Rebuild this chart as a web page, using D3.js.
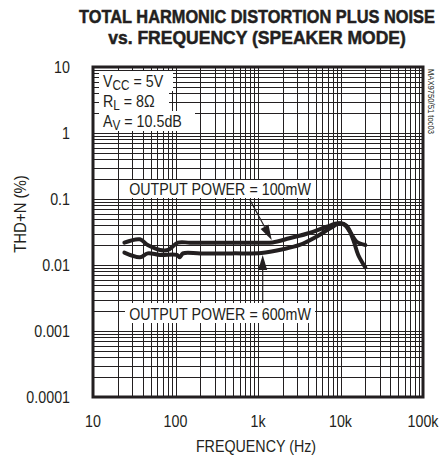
<!DOCTYPE html>
<html>
<head>
<meta charset="utf-8">
<script src="https://cdn.jsdelivr.net/npm/d3@7"></script>
<style>
	body { margin: 0; background: #fff; }
	svg text { font-family: 'Liberation Sans', Arial, sans-serif; fill: #231f20; }
	.graph-title { font-weight: bold; font-size: 19px; stroke: #231f20; stroke-width: 0.5px; }
	.ticklabel { font-size: 17px; }
	.axislabel { font-size: 17px; }
	.note { font-size: 17px; }
	.toc { font-size: 9px; }
</style>
</head>
<body>
<svg id="chartsvg"></svg>
<script>
// values
var xTicks = [10, 100, 1000, 10000, 100000];
var xTickLabels = ["10", "100", "1k", "10k", "100k"];
var yTicks = [10, 1, 0.1, 0.01, 0.001, 0.0001];
var yTickLabels = ["10", "1", "0.1", "0.01", "0.001", "0.0001"];

// OUTPUT POWER = 100mW
var freq100 = [24, 37, 46, 65, 81, 107, 150, 300, 600, 1000, 1500, 2400, 4300, 6800, 9400, 11300, 13000, 15700, 20000];
var thd100 = [0.0218, 0.0245, 0.0201, 0.0169, 0.0169, 0.0218, 0.0218, 0.0218, 0.0218, 0.0218, 0.0220, 0.0254, 0.0308, 0.0380, 0.0428, 0.0404, 0.0320, 0.0225, 0.0201];
// OUTPUT POWER = 600mW
var freq600 = [24, 37, 46, 65, 104, 113, 123, 200, 500, 1100, 2000, 3200, 5100, 7500, 9900, 11900, 14300, 16400, 20000];
var thd600 = [0.0154, 0.0131, 0.0150, 0.0142, 0.0142, 0.0131, 0.0150, 0.0150, 0.0150, 0.0152, 0.0173, 0.0201, 0.0268, 0.0360, 0.0428, 0.0390, 0.0239, 0.0142, 0.0092];

var titleLines = ["TOTAL HARMONIC DISTORTION PLUS NOISE", "vs. FREQUENCY (SPEAKER MODE)"];
var conditions = [["V", "CC", " = 5V"], ["R", "L", " = 8\u03a9"], ["A", "V", " = 10.5dB"]];

var Plot = {
	width0: 447,
	height0: 459,
	left: 93, right: 423, top: 67, bottom: 397,
	narrow: 0.84, //the original uses a condensed face, squeeze the regular one
	ink: "#231f20",
	Init: function() {
		var p = this;
		this.svg = d3.select("#chartsvg").attr("width", p.width0).attr("height", p.height0);
		this.x = d3.scaleLog().domain([10, 100000]).range([p.left, p.right]);
		this.y = d3.scaleLog().domain([0.0001, 10]).range([p.bottom, p.top]);
	},
	//text placed at origin, then moved and squeezed horizontally
	Label: function(x, y, txt, cls, anchor, k, rot) {
		return this.svg.append("text").attr("class", cls).attr("text-anchor", anchor || "start")
			.attr("transform", "translate(" + x + "," + y + ")" + (rot ? "rotate(" + rot + ")" : "") + "scale(" + (k || this.narrow) + ",1)")
			.text(txt);
	},
	DrawGrid: function() {
		var p = this, x = p.x, y = p.y;
		var xs = [], ys = [];
		for (var d = 10; d < 100000; d *= 10) for (var m = 1; m <= 10; m++) xs.push(d * m);
		for (var e = 0.0001; e < 10; e *= 10) for (var n = 1; n <= 10; n++) ys.push(e * n);
		var g = p.svg.append("g").attr("class", "grid").attr("stroke", p.ink).attr("stroke-width", 1);
		g.selectAll("line.v").data(xs).enter().append("line").attr("class", "v")
			.attr("x1", function(d) { return Math.round(x(d)) + .5; }).attr("x2", function(d) { return Math.round(x(d)) + .5; })
			.attr("y1", p.top).attr("y2", p.bottom);
		g.selectAll("line.h").data(ys).enter().append("line").attr("class", "h")
			.attr("y1", function(d) { return Math.round(y(d)) + .5; }).attr("y2", function(d) { return Math.round(y(d)) + .5; })
			.attr("x1", p.left).attr("x2", p.right);
	},
	DrawLabels: function() {
		var p = this, x = p.x, y = p.y;
		xTicks.forEach(function(d, i) { p.Label(x(d), 427, xTickLabels[i], "ticklabel", "middle"); });
		yTicks.forEach(function(d, i) { p.Label(70, y(d) + 6, yTickLabels[i], "ticklabel", "end"); });
		p.Label(256, 452, "FREQUENCY (Hz)", "axislabel", "middle");
		p.Label(26, 214, "THD+N (%)", "axislabel", "middle", 0.88, -90);
		//squeeze each title line to the width it has in the original
		var widths = [356, 298];
		titleLines.forEach(function(t, i) {
			var tt = p.Label(257, 23 + i * 21, t, "graph-title", "middle", 1);
			var k = widths[i] / tt.node().getComputedTextLength();
			tt.attr("transform", "translate(257," + (23 + i * 21) + ")scale(" + k + ",1)");
		});
		p.Label(428, 69, "MAX9750/51 toc03", "toc", "start", 0.85, 90);
	},
	DrawNotes: function() {
		var p = this, svg = p.svg;
		var boxes = [[99, 71, 74, 20], [99, 91, 70, 20], [99, 111, 96, 20]];
		conditions.forEach(function(c, i) {
			var b = boxes[i];
			svg.append("rect").attr("x", b[0]).attr("y", b[1]).attr("width", b[2]).attr("height", b[3]).attr("fill", "#fff");
			var t = p.Label(103, b[1] + 16, "", "note", "start");
			t.append("tspan").text(c[0]);
			t.append("tspan").attr("dy", 3).style("font-size", "14px").text(c[1]);
			t.append("tspan").attr("dy", -3).text(c[2]);
		});
		svg.append("rect").attr("x", 125).attr("y", 180).attr("width", 190).attr("height", 18).attr("fill", "#fff");
		p.Label(220, 195, "OUTPUT POWER = 100mW", "note", "middle");
		svg.append("rect").attr("x", 125).attr("y", 303).attr("width", 190).attr("height", 20).attr("fill", "#fff");
		p.Label(220, 320, "OUTPUT POWER = 600mW", "note", "middle");
	},
	DrawCurves: function() {
		var p = this, x = p.x, y = p.y;
		var line = d3.line().x(function(d) { return x(d[0]); }).y(function(d) { return y(d[1]); }).curve(d3.curveCatmullRom);
		[[freq100, thd100], [freq600, thd600]].forEach(function(s) {
			p.svg.append("path").datum(d3.zip(s[0], s[1])).attr("d", line)
				.attr("fill", "none").attr("stroke", p.ink).attr("stroke-width", 4).attr("stroke-linejoin", "round").attr("stroke-linecap", "round");
		});
	},
	Arrow: function(f0, v0, f1, v1) {
		var p = this;
		var x0 = p.x(f0), y0 = p.y(v0), x1 = p.x(f1), y1 = p.y(v1);
		var a = Math.atan2(y1 - y0, x1 - x0), L = 15, W = 4.5;
		var bx = x1 - L * Math.cos(a), by = y1 - L * Math.sin(a);
		p.svg.append("line").attr("x1", x0).attr("y1", y0).attr("x2", bx).attr("y2", by).attr("stroke", p.ink).attr("stroke-width", 1.2);
		p.svg.append("path").attr("fill", p.ink)
			.attr("d", "M" + x1 + "," + y1 + "L" + (bx - W * Math.sin(a)) + "," + (by + W * Math.cos(a)) + "L" + (bx + W * Math.sin(a)) + "," + (by - W * Math.cos(a)) + "Z");
	},
	DrawFrame: function() {
		var p = this;
		p.svg.append("rect").attr("x", p.left).attr("y", p.top).attr("width", p.right - p.left).attr("height", p.bottom - p.top)
			.attr("fill", "none").attr("stroke", p.ink).attr("stroke-width", 3);
	}
};

Plot.Init();
Plot.DrawGrid();
Plot.DrawNotes();
Plot.DrawCurves();
Plot.Arrow(800, 0.0966, 1466, 0.024);
Plot.Arrow(1140, 0.00265, 1140, 0.0142);
Plot.DrawFrame();
Plot.DrawLabels();
</script>
</body>
</html>
